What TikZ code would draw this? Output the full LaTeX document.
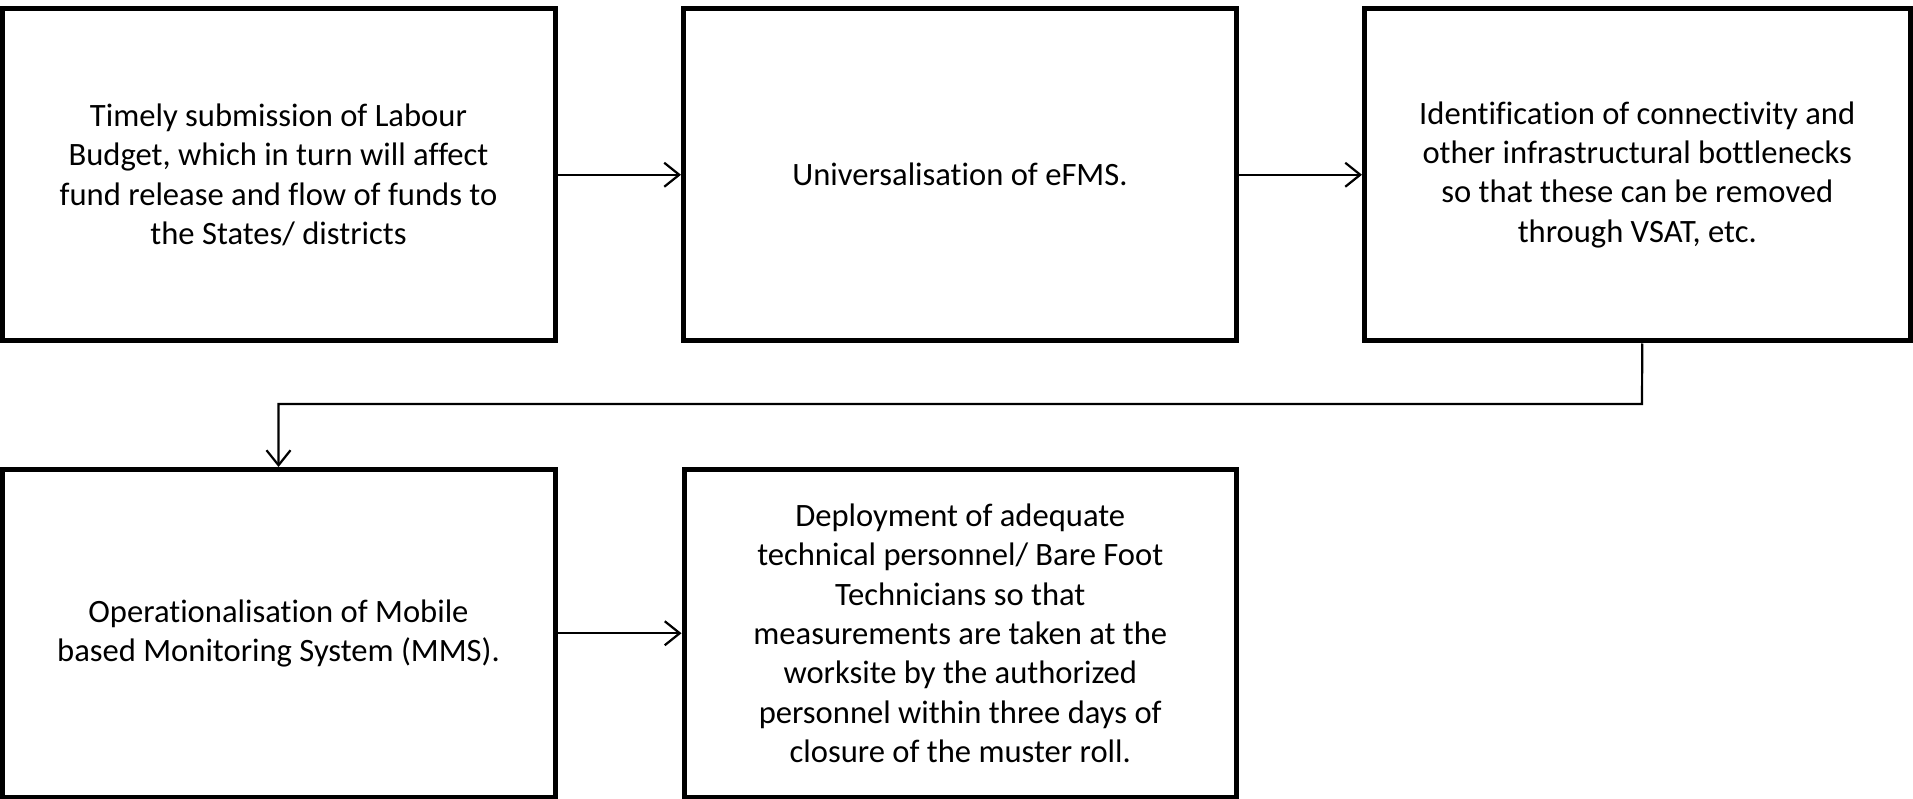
\documentclass[tikz,border=0pt]{standalone}
\usepackage{fontspec}
\setmainfont{Carlito}[Ligatures=NoCommon]
\usetikzlibrary{arrows.meta}
\begin{document}
\begin{tikzpicture}[x=1pt,y=-1pt,
  flowbox/.style={draw=black,line width=5pt,inner sep=0pt,align=center,
    font=\fontsize{32.6}{39.4}\selectfont,text=black},
  arr/.style={draw=black,line width=2.2pt,-{Straight Barb[length=15pt,width=24pt,line width=2.2pt]}}]
\useasboundingbox (0,0) rectangle (1913,799);
\node[flowbox,minimum width=553pt,minimum height=332.5pt] (b1) at (278.5,174.75)
 {Timely submission of Labour\\Budget, which in turn will affect\\fund release and flow of funds to\\the States/ districts};
\node[flowbox,minimum width=553pt,minimum height=332.5pt] (b2) at (960,174.75)
 {Universalisation of eFMS.};
\node[flowbox,minimum width=545.5pt,minimum height=332.5pt] (b3) at (1637.25,174.75)
 {Identification of connectivity and\\other infrastructural bottlenecks\\so that these can be removed\\through VSAT, etc.};
\node[flowbox,minimum width=553pt,minimum height=327.5pt] (b4) at (278.5,633.25)
 {Operationalisation of Mobile\\based Monitoring System (MMS).};
\node[flowbox,minimum width=552.5pt,minimum height=327.5pt] (b5) at (960.25,633.25)
 {Deployment of adequate\\technical personnel/ Bare Foot\\Technicians so that\\measurements are taken at the\\worksite by the authorized\\personnel within three days of\\closure of the muster roll.};
\draw[arr] (b1.east) -- (b2.west);
\draw[arr] (b2.east) -- (b3.west);
\coordinate (c1) at ([xshift=5pt]b3.south);
\coordinate (c2) at (1642,404);
\draw[arr] (c1) -- (c2) -| (b4.north);
\draw[arr] (b4.east) -- (b5.west);
\end{tikzpicture}
\end{document}
